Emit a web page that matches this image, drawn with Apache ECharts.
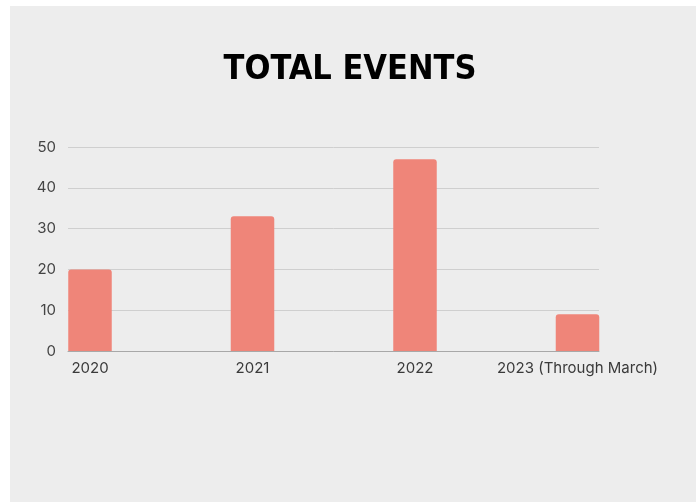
<!DOCTYPE html>
<html>
<head>
<meta charset="utf-8">
<script src="https://cdn.jsdelivr.net/npm/echarts@6/dist/echarts.min.js"></script>
<style>
html,body{margin:0;padding:0;background:#ffffff;}
#chart{width:700px;height:502px;}
</style>
</head>
<body>
<div id="chart"></div>
<script>
const titleText = 'TOTAL EVENTS';
const categories = ['2020', '2021', '2022', '2023 (Through March)'];
const totalEvents = [20, 33, 47, 9];
const yTicks = { min: 0, max: 50, interval: 10 };

const chart = echarts.init(document.getElementById('chart'));
const labelFont = 'Inter, "Noto Sans", sans-serif';
chart.setOption({
  animation: false,
  backgroundColor: '#ffffff',
  graphic: [{
    type: 'rect', z: -10, silent: true,
    shape: { x: 10, y: 6, width: 686, height: 496 },
    style: { fill: '#ededed' }
  }],
  title: {
    text: titleText,
    left: 'center',
    top: 48,
    textStyle: {
      fontFamily: '"DejaVu Sans Condensed", "DejaVu Sans", sans-serif',
      fontWeight: 'bold',
      fontSize: 34,
      color: '#000000'
    }
  },
  grid: [
    { left: 68, right: 101, top: 147, bottom: 151 },
    { left: 90, right: 122.5, top: 147, bottom: 151 }
  ],
  xAxis: [
    {
      gridIndex: 0, type: 'value', min: 0, max: 1,
      axisLine: { show: true, onZero: false, lineStyle: { color: '#a8a8a8', width: 1 } },
      axisTick: { show: false }, axisLabel: { show: false }, splitLine: { show: false }
    },
    {
      gridIndex: 1, type: 'category', data: categories, boundaryGap: false,
      axisLine: { show: false }, axisTick: { show: false }, splitLine: { show: false },
      axisLabel: { show: true, margin: 10, fontSize: 15, fontFamily: labelFont, color: '#3a3a3a', interval: 0 }
    }
  ],
  yAxis: [
    {
      gridIndex: 0, type: 'value', min: yTicks.min, max: yTicks.max, interval: yTicks.interval,
      axisLine: { show: false }, axisTick: { show: false },
      axisLabel: { margin: 12, fontSize: 15, fontFamily: labelFont, color: '#444444' },
      splitLine: { show: true, lineStyle: { color: '#cfcfcf', width: 1 } }
    },
    {
      gridIndex: 1, type: 'value', min: yTicks.min, max: yTicks.max, interval: yTicks.interval,
      show: false, splitLine: { show: false }
    }
  ],
  series: [{
    type: 'bar',
    xAxisIndex: 1, yAxisIndex: 1,
    data: totalEvents,
    barWidth: 43.5,
    itemStyle: { color: '#ef8579', borderRadius: [3, 3, 0, 0] },
    z: 5
  }]
});
</script>
</body>
</html>
